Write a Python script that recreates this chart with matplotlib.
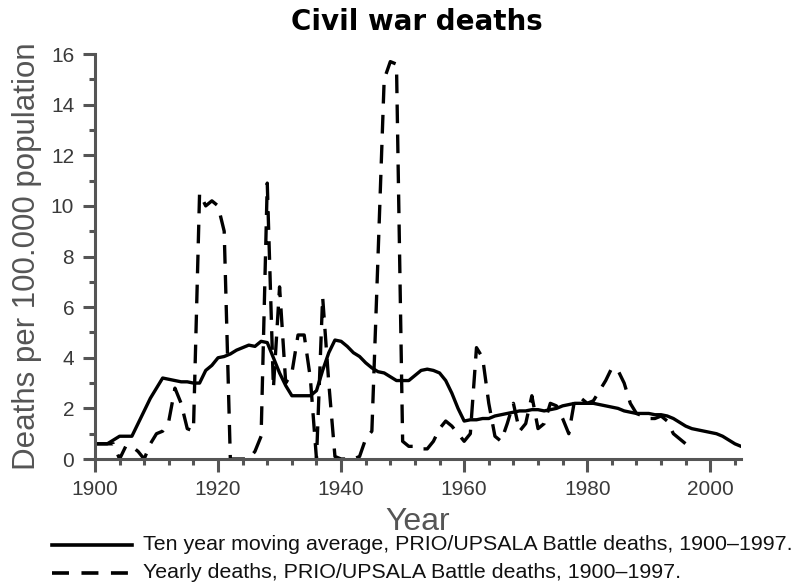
import matplotlib
matplotlib.use("Agg")
import matplotlib.pyplot as plt
import numpy as np
from matplotlib.lines import Line2D

# ten year moving average
ma_years = list(range(1900, 2006))
ma_values = [0.6, 0.6, 0.6, 0.75, 0.9, 0.9, 0.9, 1.4, 1.9, 2.4,
             2.8, 3.2, 3.15, 3.1, 3.05, 3.05, 3.0, 3.0, 3.5, 3.7,
             4.0, 4.05, 4.15, 4.3, 4.4, 4.5, 4.45, 4.65, 4.6, 4.0,
             3.4, 2.9, 2.5, 2.5, 2.5, 2.5, 2.7, 3.5, 4.2, 4.7,
             4.65, 4.45, 4.2, 4.05, 3.8, 3.6, 3.45, 3.4, 3.25, 3.1,
             3.1, 3.1, 3.3, 3.5, 3.55, 3.5, 3.4, 3.1, 2.6, 2.0,
             1.5, 1.55, 1.55, 1.6, 1.6, 1.7, 1.75, 1.8, 1.85, 1.9,
             1.9, 1.95, 1.95, 1.9, 1.95, 2.0, 2.1, 2.15, 2.2, 2.2,
             2.2, 2.2, 2.15, 2.1, 2.05, 2.0, 1.9, 1.85, 1.8, 1.8,
             1.8, 1.75, 1.75, 1.7, 1.6, 1.45, 1.3, 1.2, 1.15, 1.1,
             1.05, 1.0, 0.9, 0.75, 0.6, 0.5]

# yearly deaths
yr_years = list(range(1900, 1998))
yr_values = [0.6, 0.6, 0.6, 0.6, 0.0, 0.5, 0.5, 0.3, 0.0, 0.6,
             1.0, 1.1, 1.5, 2.8, 2.2, 1.2, 1.1, 10.5, 10.0, 10.2,
             10.0, 9.0, 0.0, 0.0, 0.0, 0.0, 0.3, 0.9, 10.9, 2.8,
             6.8, 3.0, 3.4, 4.9, 4.9, 3.2, 0.0, 6.4, 3.0, 0.1,
             0.0, 0.0, 0.0, 0.1, 0.8, 1.1, 8.0, 15.0, 15.7, 15.6,
             0.7, 0.5, 0.5, 0.4, 0.4, 0.7, 1.2, 1.5, 1.3, 1.0,
             0.7, 1.0, 4.4, 4.0, 2.2, 0.9, 0.7, 1.4, 2.2, 1.1,
             1.4, 2.5, 1.2, 1.4, 2.2, 2.1, 1.6, 1.0, 2.4, 2.4,
             2.2, 2.3, 2.7, 3.1, 3.6, 3.5, 3.0, 2.2, 1.8, 1.7,
             1.6, 1.6, 1.7, 1.5, 1.0, 0.8, 0.6, 0.4]

solid_label = "Ten year moving average, PRIO/UPSALA Battle deaths, 1900\u20131997."
dash_label = "Yearly deaths, PRIO/UPSALA Battle deaths, 1900\u20131997."

plt.rcParams['font.family'] = ['Liberation Sans', 'DejaVu Sans']
axis_col = '#555555'

fig = plt.figure(figsize=(7.96, 5.86), dpi=100)
ax = fig.add_axes([0.1193, 0.2167, 0.8117, 0.6911])

ax.plot(ma_years, ma_values, color='black', lw=2.4, solid_joinstyle='round')
ax.plot(yr_years, yr_values, color='black', lw=2.4, dashes=(5.6, 3.4))

ax.set_xlim(1900, 2005)
ax.set_ylim(0, 16)
for s in ['top', 'right']:
    ax.spines[s].set_visible(False)
for s in ['left', 'bottom']:
    ax.spines[s].set_color(axis_col)
    ax.spines[s].set_linewidth(2.2)

ax.set_xticks(range(1900, 2001, 20))
ax.set_xticks(range(1900, 2005, 4), minor=True)
ax.set_yticks(range(0, 17, 2))
ax.set_yticks(range(0, 17, 1), minor=True)
ax.tick_params(which='major', length=9, width=2.2, color=axis_col,
               labelsize=15, labelcolor='#3a3a3a', pad=6)
ax.tick_params(which='minor', length=4.5, width=2.2, color=axis_col)

ax.set_xlabel('Year', fontsize=23, color='#555555', labelpad=6)
ax.set_ylabel('Deaths per 100.000 population', fontsize=22.5, color='#555555', labelpad=6)
fig.text(0.524, 0.963, 'Civil war deaths', ha='center', va='center',
         fontsize=20, fontweight='bold', family='DejaVu Sans')

# legend below the axes
fig.add_artist(Line2D([52, 132], [586 - 545, 586 - 545], transform=None,
                      color='black', lw=2.6))
fig.add_artist(Line2D([52, 129], [586 - 573, 586 - 573], transform=None,
                      color='black', lw=2.6, dashes=(4.7, 3.46)))
fig.text(143 / 796, 1 - 545 / 586, solid_label, ha='left', va='center',
         fontsize=15.4, color='#111111')
fig.text(143 / 796, 1 - 573 / 586, dash_label, ha='left', va='center',
         fontsize=15.4, color='#111111')

fig.savefig('out.png', dpi=100)
